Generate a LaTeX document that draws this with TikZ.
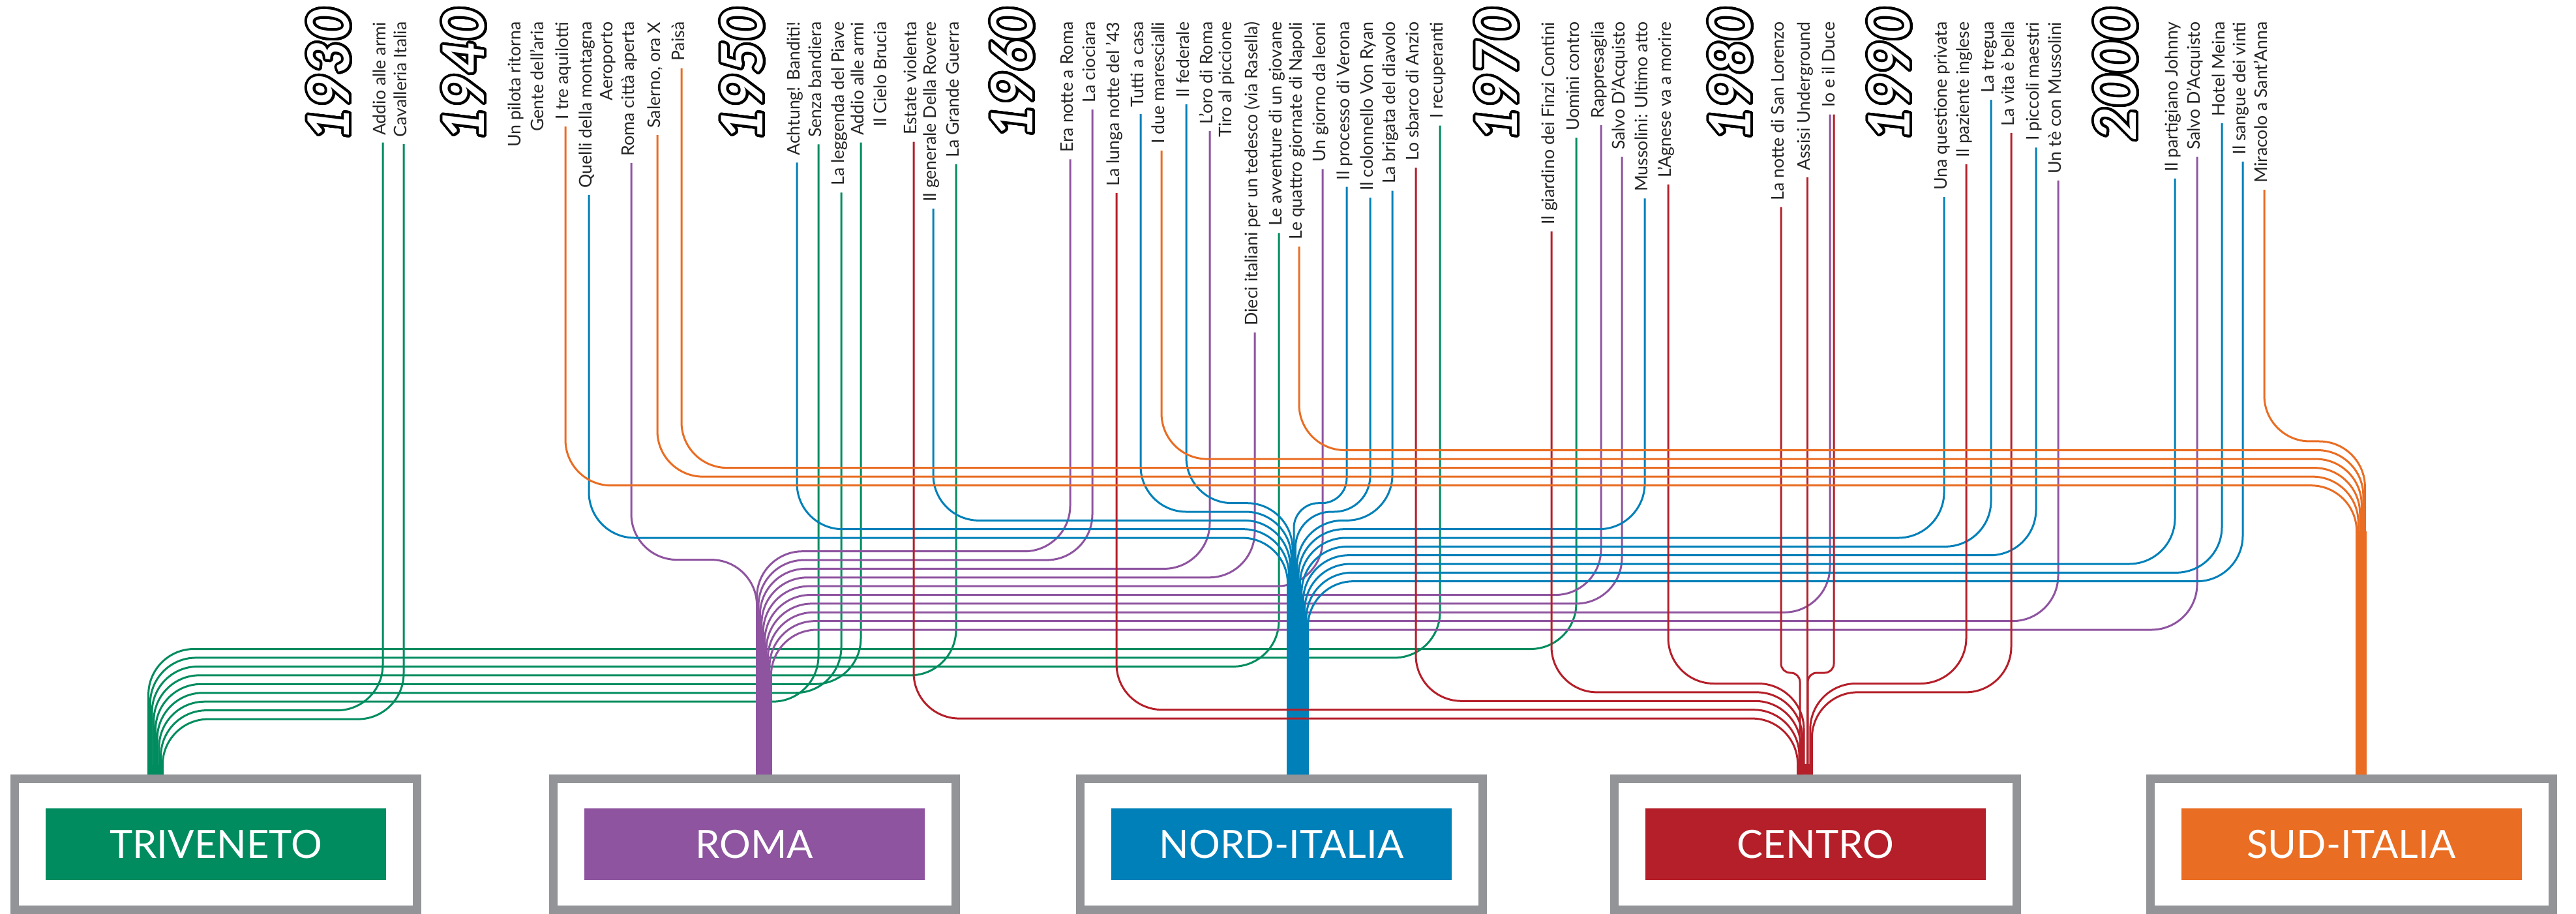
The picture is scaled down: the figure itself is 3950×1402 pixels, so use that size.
\documentclass[tikz,border=0pt]{standalone}
\usepackage{fontspec}
\setmainfont{Lato}
\usepackage{contour}
\contourlength{1.1pt}
\contournumber{32}
\usetikzlibrary{calc}

\definecolor{triveneto}{HTML}{008C5F}
\definecolor{roma}{HTML}{8E54A0}
\definecolor{norditalia}{HTML}{0080B9}
\definecolor{centro}{HTML}{B51F29}
\definecolor{suditalia}{HTML}{E96D23}
\definecolor{framegray}{HTML}{929497}

\tikzset{
  film/.style={rotate=90, anchor=east, inner xsep=1mm, inner ysep=0pt, text height=0.8mm, text depth=0pt, text=black!85, font=\fontsize{7.6pt}{9pt}\selectfont},
  decade/.style={rotate=90, anchor=east, inner sep=0pt, text=white, font=\fontsize{25pt}{30pt}\selectfont\bfseries\itshape},
  route/.style={line width=0.3mm, rounded corners=7mm},
  frame/.style={draw=framegray, fill=white, line width=1.3mm, minimum width=61.7mm, minimum height=20.1mm, inner sep=0pt},
  region/.style={text=white, minimum width=52.2mm, minimum height=11mm, inner sep=0pt, font=\fontsize{17pt}{20pt}\selectfont}
}

\begin{document}
\begin{tikzpicture}[x=0.1mm, y=-0.1mm]
    \useasboundingbox (0,0) rectangle (3950,1402);
    \fill[white] (0,0) rectangle (3950,1402);

    % Decades
    \foreach \x/\d in {506/1930, 713/1940, 1140/1950, 1554/1960, 2297/1970, 2655/1980, 2899/1990, 3246/2000}
        \node[decade] (d\d) at (\x,11) {\contour{black}{\d}};

    % Films
    \foreach \x/\n/\t in {587/addio30/Addio alle armi, 619/cavalleria/Cavalleria Italia, 794/pilota/Un pilota ritorna,
        829/gente/Gente dell'aria, 867/aquilotti/I tre aquilotti, 903/montagna/Quelli della montagna,
        935/aeroporto/Aeroporto, 968/romacitta/Roma città aperta, 1008/salerno/{Salerno, ora X}, 1045/paisa/Paisà,
        1222/achtung/Achtung! Banditi!, 1255/senza/Senza bandiera, 1290/piave/La leggenda del Piave,
        1320/addio57/Addio alle armi, 1355/cielo/Il Cielo Brucia, 1401/estate/Estate violenta,
        1431/rovere/Il generale Della Rovere, 1466/guerra/La Grande Guerra, 1641/eranotte/Era notte a Roma,
        1675/ciociara/La ciociara, 1712/lunganotte/La lunga notte del '43, 1749/tutti/Tutti a casa,
        1781/marescialli/I due marescialli, 1819/federale/Il federale, 1855/oro/L'oro di Roma,
        1884/tiro/Tiro al piccione, 1924/dieci/Dieci italiani per un tedesco (via Rasella),
        1961/avventure/Le avventure di un giovane, 1992/napoli/Le quattro giornate di Napoli,
        2028/leoni/Un giorno da leoni, 2065/verona/Il processo di Verona, 2101/ryan/Il colonnello Von Ryan,
        2135/brigata/La brigata del diavolo, 2171/anzio/Lo sbarco di Anzio, 2208/recuperanti/I recuperanti,
        2379/finzi/Il giardino dei Finzi Contini, 2417/uomini/Uomini contro, 2455/rappresaglia/Rappresaglia,
        2487/salvo74/Salvo D'Acquisto, 2522/mussolini/Mussolini: Ultimo atto, 2558/agnese/L'Agnese va a morire,
        2731/lorenzo/La notte di San Lorenzo, 2771/assisi/Assisi Underground, 2809/duce/Io e il Duce,
        2981/questione/Una questione privata, 3015/paziente/Il paziente inglese, 3053/tregua/La tregua,
        3084/vita/La vita è bella, 3122/maestri/I piccoli maestri, 3156/te/Un tè con Mussolini,
        3335/johnny/Il partigiano Johnny, 3369/salvo03/Salvo D'Acquisto, 3407/meina/Hotel Meina,
        3439/vinti/Il sangue dei vinti, 3472/miracolo/Miracolo a Sant'Anna}
        \node[film] (\n) at (\x,23) {\t};

    % Regions
    \node[frame] (tv) at (331,1295) {};
    \node[frame] (ro) at (1156.5,1295) {};
    \node[frame] (ni) at (1965,1295) {};
    \node[frame] (ce) at (2784,1295) {};
    \node[frame] (si) at (3605.5,1295) {};
    \node[region, fill=triveneto] (tvname) at (tv) {TRIVENETO};
    \node[region, fill=roma] (roname) at (ro) {ROMA};
    \node[region, fill=norditalia] (niname) at (ni) {NORD-ITALIA};
    \node[region, fill=centro] (cename) at (ce) {CENTRO};
    \node[region, fill=suditalia] (siname) at (si) {SUD-ITALIA};

    % Trunks
    \coordinate (tvtrunk) at (238,1173);
    \coordinate (rotrunk) at (1171.5,1036);
    \coordinate (nitrunk) at (1990,962);
    \coordinate (cetrunk) at (2767.5,1172);
    \coordinate (sitrunk) at (3620,815);
    \draw[triveneto, line width=2.5mm] (tvtrunk) -- (tvtrunk |- tv.north);
    \draw[roma, line width=2.5mm] (rotrunk) -- (rotrunk |- ro.north);
    \draw[norditalia, line width=3.4mm] (nitrunk) -- (nitrunk |- ni.north);
    \draw[centro, line width=2.5mm] (cetrunk) -- (cetrunk |- ce.north);
    \draw[suditalia, line width=1.7mm] (sitrunk) -- (sitrunk |- si.north);

    % Triveneto lines
    \foreach \f/\k [evaluate=\k as \sx using 227.6+2.72*\k, evaluate=\k as \ly using 995.5+13.45*\k] in
        {uomini/0, recuperanti/1, avventure/2, guerra/3, addio57/4, piave/5, senza/6, addio30/7, cavalleria/8}
        \draw[route, triveneto] (\f.west) |- (\sx,\ly) -- (\sx,\ly |- tv.north);

    % Roma lines
    \foreach \f/\k [evaluate=\k as \sx using 1160.6+2.42*\k, evaluate=\k as \ly using 845.7+13.37*\k] in
        {eranotte/0, ciociara/1, oro/2, dieci/3, leoni/4, rappresaglia/5, salvo74/6, te/8, salvo03/9}
        \draw[route, roma] (\f.west) |- (\sx,\ly) -- (\sx,\ly |- ro.north);
    \draw[route, roma] ($(duce.west)+(-3,0)$) |- (1177.5,939.3) -- (1177.5,939.3 |- ro.north);
    \draw[route, roma] (romacitta.west) |- (1160.6,858.6) -- (1160.6,858.6 |- ro.north);

    % Nord-Italia lines
    \foreach \f/\k [evaluate=\k as \sx using 1982-1.85*\k, evaluate=\k as \ly using 771.7+13.33*\k] in
        {federale/0, tutti/1, rovere/2, achtung/3, montagna/4}
        \draw[route, norditalia] (\f.west) |- (\sx,\ly) -- (\sx,\ly |- ni.north);
    \foreach \f/\k [evaluate=\k as \sx using 1984+2.38*\k, evaluate=\k as \ly using 771.7+13.33*\k] in
        {brigata/2, mussolini/3, questione/4, tregua/5, maestri/6, johnny/7, meina/8, vinti/9}
        \draw[route, norditalia] (\f.west) |- (\sx,\ly) -- (\sx,\ly |- ni.north);
    \draw[route, norditalia, rounded corners=3.8mm] (verona.west) |- (1984,771.7) -- (1984,771.7 |- ni.north);
    \draw[route, norditalia, rounded corners=5.5mm] (ryan.west) |- (1986.4,785) -- (1986.4,785 |- ni.north);

    % Centro lines
    \foreach \f/\k [evaluate=\k as \sx using 2766-2.35*\k, evaluate=\k as \ly using 1048.5+13.4*\k] in
        {agnese/0, finzi/1, anzio/2, lunganotte/3, estate/4}
        \draw[route, centro] (\f.west) |- (\sx,\ly) -- (\sx,\ly |- ce.north);
    \foreach \f/\k [evaluate=\k as \sx using 2775.8+2.6*\k, evaluate=\k as \ly using 1048.5+13.4*\k] in
        {paziente/0, vita/1}
        \draw[route, centro] (\f.west) |- (\sx,\ly) -- (\sx,\ly |- ce.north);
    \draw[route, centro, rounded corners=1.4mm] (lorenzo.west) |- (2760,1032) -- (2760,1032 |- ce.north);
    \draw[route, centro] (assisi.west) -- (assisi.west |- ce.north);
    \draw[route, centro, rounded corners=1.4mm] ($(duce.west)+(3,0)$) |- (2772,1032) -- (2772,1032 |- ce.north);

    % Sud-Italia lines
    \foreach \f/\k [evaluate=\k as \sx using 3626.4-2.56*\k, evaluate=\k as \ly using 677+13.54*\k] in
        {miracolo/0, napoli/1, marescialli/2, paisa/3, salerno/4, aquilotti/5}
        \draw[route, suditalia] (\f.west) |- (\sx,\ly) -- (\sx,\ly |- si.north);

\end{tikzpicture}
\end{document}
